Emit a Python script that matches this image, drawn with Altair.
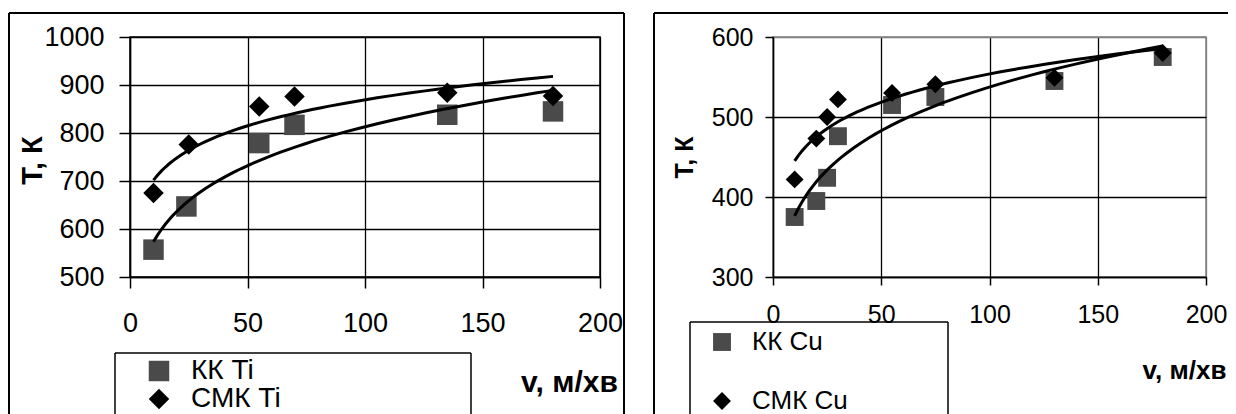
import altair as alt
import pandas as pd

FONT = "Liberation Sans"

# ---- data ----
ti_series = ["КК Ti", "СМК Ti"]
kk_ti_v = [10, 24, 55, 70, 135, 180]
kk_ti_T = [557, 647, 779, 817, 838, 845]
smk_ti_v = [10, 25, 55, 70, 135, 180]
smk_ti_T = [675, 776, 855, 876, 884, 877]

cu_series = ["КК Cu", "СМК Cu"]
kk_cu_v = [10, 20, 25, 30, 55, 75, 130, 180]
kk_cu_T = [375, 395, 424, 476, 515, 525, 545, 575]
smk_cu_v = [10, 20, 25, 30, 55, 75, 130, 180]
smk_cu_T = [422, 473, 500, 522, 530, 541, 549, 580]

x_ticks = [0, 50, 100, 150, 200]
ti_y_ticks = [500, 600, 700, 800, 900, 1000]
cu_y_ticks = [300, 400, 500, 600]

x_title = "v, м/хв"
y_title = "Т, К"
marker_colors = ["#4a4a4a", "#000000"]
marker_shapes = ["square", "diamond"]


def frame_df(series, v1, t1, v2, t2):
    rows = [{"series": series[0], "v": v, "T": t} for v, t in zip(v1, t1)]
    rows += [{"series": series[1], "v": v, "T": t} for v, t in zip(v2, t2)]
    return pd.DataFrame(rows)


def box_lines(left, right, top, bottom, width, draw_right):
    """Decorative frame drawn as separate rules (no bottom edge, it lies below the page)."""
    blank = alt.Data(values=[{}])
    parts = [
        alt.Chart(blank).mark_rule(color="black", strokeWidth=width).encode(
            x=alt.value(left), x2=alt.value(right), y=alt.value(top)),
        alt.Chart(blank).mark_rule(color="black", strokeWidth=width).encode(
            x=alt.value(left), y=alt.value(top), y2=alt.value(bottom)),
    ]
    if draw_right:
        parts.append(alt.Chart(blank).mark_rule(color="black", strokeWidth=width).encode(
            x=alt.value(right), y=alt.value(top), y2=alt.value(bottom)))
    return parts


def panel(df, series, y_dom, y_ticks, cfg):
    W, H = cfg["W"], cfg["H"]
    outer = box_lines(cfg["frame_left"], cfg["frame_right"], -24, 460, 2, cfg["frame_has_right"])
    legbox = box_lines(cfg["lb_x"], cfg["lb_x2"], cfg["lb_y"], 460, 1.5, True)
    xgrid = cfg.get("xgrid_color", "black")
    x_enc = alt.X(
        "v:Q",
        scale=alt.Scale(domain=[0, 200], nice=False, zero=False),
        axis=alt.Axis(
            values=x_ticks, title=x_title, grid=True, gridColor=xgrid, gridWidth=1.3,
            labelFont=FONT, labelFontSize=cfg["fs"], labelColor="black",
            labelPadding=cfg["xlp"], labelFlush=False, labelOverlap=False, format="d",
            tickSize=cfg["tick"], tickColor="black", tickWidth=1.5,
            domainColor="black", domainWidth=1.5,
            titleFont=FONT, titleFontSize=cfg["tfs"], titleFontWeight="bold", titleColor="black",
            titleX=cfg["xtx"], titleY=cfg["xty"], titleAlign="center", titleBaseline="middle",
        ),
    )
    y_enc = alt.Y(
        "T:Q",
        scale=alt.Scale(domain=y_dom, nice=False, zero=False),
        axis=alt.Axis(
            values=y_ticks, title=y_title, grid=True, gridColor=cfg["grid_color"], gridWidth=1.3,
            labelFont=FONT, labelFontSize=cfg["fs"], labelColor="black",
            labelPadding=cfg["ylp"], labelFlush=False, labelOverlap=False, format="d",
            tickSize=cfg["tick"], tickColor="black", tickWidth=1.5,
            domainColor="black", domainWidth=1.5,
            titleFont=FONT, titleFontSize=cfg["ytfs"], titleFontWeight="bold", titleColor="black",
            titleX=cfg["ytx"], titleY=cfg["yty"], titleAlign="center", titleBaseline="alphabetic",
            titleAngle=270,
        ),
    )
    legend = alt.Legend(
        orient="none", legendX=cfg["lx"], legendY=cfg["ly"], title=None,
        labelFont=FONT, labelFontSize=cfg["lfs"], labelColor="black",
        symbolSize=cfg["ms"], symbolStrokeWidth=0, symbolOpacity=1,
        rowPadding=cfg["rowpad"], labelOffset=cfg["loff"], padding=0,
    )
    points = alt.Chart(df).mark_point(filled=True, opacity=1, size=cfg["ms"]).encode(
        x=x_enc,
        y=y_enc,
        color=alt.Color("series:N", scale=alt.Scale(domain=series, range=marker_colors), legend=legend),
        shape=alt.Shape("series:N", scale=alt.Scale(domain=series, range=marker_shapes), legend=legend),
    )
    lines = alt.Chart(df).transform_regression(
        "v", "T", method="pow", groupby=["series"]
    ).mark_line(color="black", strokeWidth=3).encode(
        x=alt.X("v:Q"), y=alt.Y("T:Q"), detail="series:N"
    )
    return alt.layer(*outer, *legbox, points, lines).properties(
        width=W, height=H,
        view=alt.ViewBackground(stroke=cfg["view_stroke"], strokeWidth=1.5),
    )


ti_df = frame_df(ti_series, kk_ti_v, kk_ti_T, smk_ti_v, smk_ti_T)
cu_df = frame_df(cu_series, kk_cu_v, kk_cu_T, smk_cu_v, smk_cu_T)

left = panel(ti_df, ti_series, [500, 1000], ti_y_ticks, dict(
    W=470, H=240, frame_left=-121, frame_right=494, frame_has_right=True,
    lb_x=-15, lb_x2=341, lb_y=316,
    grid_color="black", view_stroke="black",
    fs=27, tfs=30, ytfs=29, lfs=28, xlp=22, ylp=15, tick=11,
    xtx=439, xty=105, ytx=-89, yty=123,
    lx=15, ly=320, ms=420, rowpad=-1, loff=18,
))

right = panel(cu_df, cu_series, [300, 600], cu_y_ticks, dict(
    W=433, H=240, frame_left=-119, frame_right=470, frame_has_right=False,
    lb_x=-83, lb_x2=175, lb_y=285,
    grid_color={"condition": {"test": "datum.value >= 600", "value": "#808080"}, "value": "black"},
    xgrid_color={"condition": {"test": "datum.value >= 200", "value": "#808080"}, "value": "black"},
    view_stroke="#808080",
    fs=25, tfs=26, ytfs=25, lfs=26, xlp=17, ylp=12, tick=8,
    xtx=411, xty=93, ytx=-81, yty=120,
    lx=-64, ly=292, ms=320, rowpad=33, loff=17,
))

chart = alt.hconcat(left, right, spacing=173, bounds="flush").resolve_scale(
    color="independent", shape="independent"
).resolve_legend(color="independent", shape="independent").properties(
    autosize=alt.AutoSizeParams(type="none"),
    padding={"left": 122, "top": 29, "right": 1098, "bottom": 377},
).configure(background="white")

chart.save("out.html", embed_options={"renderer": "svg", "actions": False})
